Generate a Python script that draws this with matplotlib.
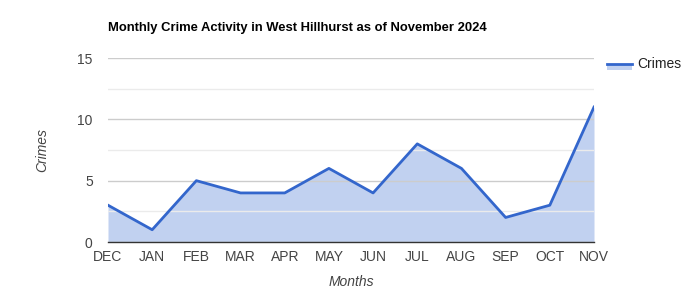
import matplotlib
matplotlib.use("Agg")
import matplotlib.pyplot as plt
from matplotlib.patches import Rectangle
from matplotlib.lines import Line2D

plt.rcParams['font.family'] = ['Liberation Sans', 'DejaVu Sans']

months = ["DEC", "JAN", "FEB", "MAR", "APR", "MAY", "JUN", "JUL", "AUG", "SEP", "OCT", "NOV"]
crimes = [3, 1, 5, 4, 4, 6, 4, 8, 6, 2, 3, 11]
y_ticks = [0, 5, 10, 15]
y_minor = [2.5, 7.5, 12.5]

line_color = "#3366cc"
fill_color = "#c1d1f0"

fig = plt.figure(figsize=(7, 3), dpi=100)
ax = fig.add_axes([108/700, 1-242/300, (594-108)/700, (242-58)/300])

x = list(range(len(months)))
ax.fill_between(x, crimes, 0, color=fill_color, linewidth=0, zorder=1)
ax.plot(x, crimes, color=line_color, linewidth=2, zorder=3)

ax.set_xlim(0, len(months)-1)
ax.set_ylim(0, 15)
ax.set_xticks(x)
ax.set_xticklabels(months)
ax.set_yticks(y_ticks)
ax.set_yticks(y_minor, minor=True)
ax.set_axisbelow('line')
ax.grid(axis='y', which='major', color="#cccccc", linewidth=1)
ax.grid(axis='y', which='minor', color="#ebebeb", linewidth=1)
ax.tick_params(axis='both', which='both', length=0, labelsize=10, labelcolor="#444444")
ax.tick_params(axis='y', pad=11)
ax.tick_params(axis='x', pad=6)
for s in ['top', 'right', 'left']:
    ax.spines[s].set_visible(False)
ax.spines['bottom'].set_color("#333333")
ax.spines['bottom'].set_linewidth(1)
ax.spines['bottom'].set_zorder(4)

ax.set_ylabel("Crimes", fontstyle='italic', fontsize=10, color="#444444", labelpad=20)
ax.set_xlabel("Months", fontstyle='italic', fontsize=10, color="#444444", labelpad=8)

fig.text(108/700, 1-28/300, "Monthly Crime Activity in West Hillhurst as of November 2024",
         fontsize=9.4, fontweight='bold', color="#000000", va='center', ha='left')

# legend
fig.add_artist(Rectangle((607/700, 1-70/300), 25/700, 6/300, transform=fig.transFigure,
                         facecolor=fill_color, edgecolor='none'))
fig.add_artist(Line2D([607/700, 632/700], [1-64/300, 1-64/300], transform=fig.transFigure,
                      color=line_color, linewidth=2))
fig.text(637/700, 1-64/300, "Crimes", fontsize=10, color="#222222", va='center', ha='left')

fig.savefig("out.png", dpi=100)
